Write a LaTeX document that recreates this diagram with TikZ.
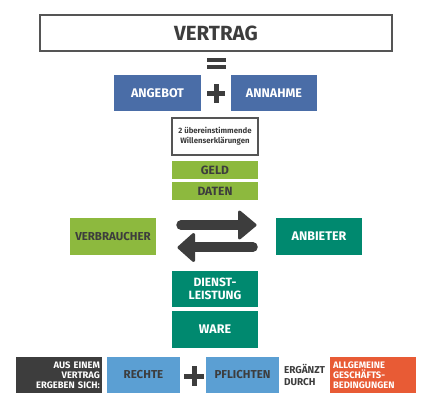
\documentclass[tikz,border=0pt]{standalone}
\usepackage{fontspec}
\setmainfont{Fira Sans}
\definecolor{cblue}{HTML}{4A6DA7}
\definecolor{cgreen}{HTML}{8DB93E}
\definecolor{cteal}{HTML}{00896F}
\definecolor{clight}{HTML}{5B9FD3}
\definecolor{corange}{HTML}{E85B35}
\definecolor{cdark}{HTML}{3D3D3D}
\definecolor{cborder}{HTML}{555555}
\begin{document}
\begin{tikzpicture}[x=1pt,y=-1pt,
  boxbase/.style={inner sep=0pt, outer sep=0pt, font=\bfseries},
  bluebox/.style={boxbase, fill=cblue, text=white, minimum width=87pt, minimum height=36pt, font=\bfseries\fontsize{12.5}{14}\selectfont},
  greenbar/.style={boxbase, fill=cgreen, text=cdark, minimum width=86pt, minimum height=18pt, font=\bfseries\fontsize{12}{13}\selectfont},
  greenbox/.style={boxbase, fill=cgreen, text=cdark, minimum width=86pt, minimum height=37pt, font=\bfseries\fontsize{11.5}{13}\selectfont},
  tealbox/.style={boxbase, fill=cteal, text=white, minimum width=86pt, minimum height=37pt, font=\bfseries\fontsize{12}{13.5}\selectfont, align=center},
  lightbox/.style={boxbase, fill=clight, text=cdark, minimum width=73pt, minimum height=36pt, font=\bfseries\fontsize{11.5}{13}\selectfont},
  smalltext/.style={font=\bfseries\fontsize{9.4}{10.2}\selectfont}
]
\useasboundingbox (0,0) rectangle (430,409);
\fill[white] (0,0) rectangle (430,409);

% title
\node[boxbase, draw=cborder, line width=1.5pt, minimum width=352pt, minimum height=36pt, text=cdark, font=\bfseries\fontsize{20.5}{22}\selectfont] (vertrag) at (216,33) {VERTRAG};

% equals sign
\fill[cdark] (207,58) rectangle (226,61.8);
\fill[cdark] (207,65.2) rectangle (226,69);

\node[bluebox] (angebot) at (157.5,93) {ANGEBOT};
\node[bluebox, minimum width=86pt] (annahme) at (274,93) {ANNAHME};
% plus
\fill[cdark] (207,91) rectangle (225,96);
\fill[cdark] (213.5,84.5) rectangle (218.5,102.5);

\node[boxbase, draw=cborder, line width=1.2pt, minimum width=86pt, minimum height=37pt, text=cdark, align=center, font=\bfseries\fontsize{7.8}{10}\selectfont] (willen) at (215,136.5) {2 übereinstimmende\\Willenserklärungen};

\node[greenbar] (geld) at (215,170) {GELD};
\node[greenbar] (daten) at (215,191) {DATEN};

\node[greenbox] (verbraucher) at (113,236.5) {VERBRAUCHER};
\node[tealbox, font=\bfseries\fontsize{12.5}{14}\selectfont] (anbieter) at (319,236.5) {ANBIETER};

% exchange arrows
\coordinate (a1s) at (181,225);
\coordinate (a1e) at (245,225);
\coordinate (a2s) at (253,247);
\coordinate (a2e) at (190,247);
\draw[cdark, line width=9.5pt, line cap=round] (a1s) -- (a1e);
\filldraw[cdark, line width=3pt, line join=round] (239.5,212) -- (255,225) -- (239.5,238) -- cycle;
\draw[cdark, line width=9.5pt, line cap=round] (a2s) -- (a2e);
\filldraw[cdark, line width=3pt, line join=round] (193.5,234.5) -- (179,247.5) -- (193.5,260.5) -- cycle;

\node[tealbox, minimum height=36pt] (dienst) at (215,289) {DIENST-\\LEISTUNG};
\node[tealbox, font=\bfseries\fontsize{12.5}{14}\selectfont] (ware) at (215,329.5) {WARE};

% bottom row
\node[boxbase, fill=cdark, text=white, minimum width=86pt, minimum height=36pt, align=right, smalltext, text width=82pt] (aus) at (59,375) {AUS EINEM\\VERTRAG\\ERGEBEN SICH:};
\node[lightbox] (rechte) at (143.5,375) {RECHTE};
\fill[cdark] (184,373.5) rectangle (204,378.5);
\fill[cdark] (191.5,366) rectangle (196.5,386);
\node[lightbox] (pflichten) at (242.5,375) {PFLICHTEN};
\node[boxbase, anchor=west, text=cdark, align=left, font=\bfseries\fontsize{10}{11.5}\selectfont] (ergaenzt) at (284,375) {ERGÄNZT\\DURCH};
\node[boxbase, fill=corange, text=white, minimum width=86pt, minimum height=36pt, align=left, text width=80pt, smalltext] (agb) at (373,375) {ALLGEMEINE\\GESCHÄFTS-\\BEDINGUNGEN};
\end{tikzpicture}
\end{document}
